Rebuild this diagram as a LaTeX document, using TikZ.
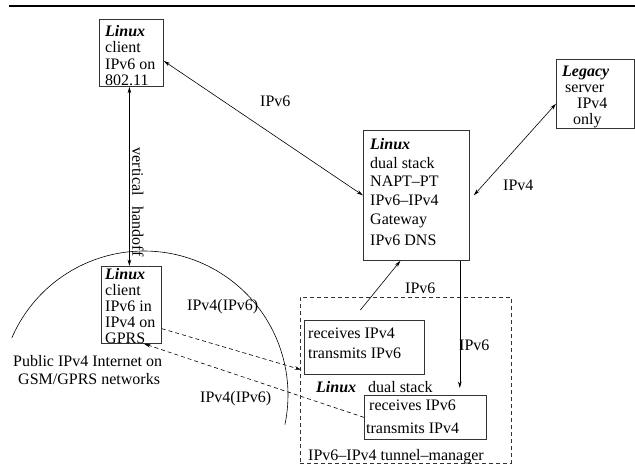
\documentclass[tikz,border=0pt]{standalone}
\usepackage{fontspec}
\setmainfont{Liberation Serif}
\usetikzlibrary{arrows.meta,calc}
\begin{document}
\begin{tikzpicture}[x=1pt,y=-1pt,
  font=\fontsize{16}{19}\selectfont,
  box/.style={draw=black!80, line width=0.8pt, anchor=north west, inner sep=0pt},
  dbox/.style={box, dash pattern=on 4pt off 3pt},
  tx/.style={anchor=base west, inner sep=0pt},
  bi/.style={tx, font=\fontsize{16}{19}\selectfont\bfseries\itshape},
  tip/.tip={Stealth[length=6.5pt,width=3.6pt]},
  lnk/.style={line width=0.6pt, -tip},
  blnk/.style={line width=0.6pt, tip-tip},
  dlnk/.style={lnk, dash pattern=on 4pt off 3pt}]
\useasboundingbox (0,0) rectangle (635,468);
% top rule
\draw[line width=2pt] (9,6) -- (635,6);

% boxes
\node[box, minimum width=64pt, minimum height=67pt] (c1) at (99,19) {};
\node[box, minimum width=60pt, minimum height=77pt] (c2) at (101,266) {};
\node[box, minimum width=106pt, minimum height=130pt] (g) at (363,130) {};
\node[box, minimum width=78pt, minimum height=69pt] (L) at (556,59) {};
\node[dbox, minimum width=211pt, minimum height=166pt] (t) at (300,297) {};
\node[box, minimum width=120pt, minimum height=54pt] (r4) at (304,320) {};
\node[box, minimum width=122pt, minimum height=44pt] (r6) at (364,395) {};

% client 1 text
\node[bi] (c1a) at (105,37) {Linux};
\node[tx] (c1b) at (105,53) {client};
\node[tx] (c1c) at (105,70) {IPv6 on};
\node[tx] (c1d) at (105,86) {802.11};

% client 2 text
\node[bi] (c2a) at (105,279) {Linux};
\node[tx] (c2b) at (105,295) {client};
\node[tx] (c2c) at (105,311) {IPv6 in};
\node[tx] (c2d) at (105,327) {IPv4 on};
\node[tx] (c2e) at (105,343) {GPRS};

% gateway text
\node[bi] (ga) at (370,150) {Linux};
\node[tx] (gb) at (370,168) {dual stack};
\node[tx] (gc) at (370,186) {NAPT--PT};
\node[tx] (gd) at (370,206) {IPv6--IPv4};
\node[tx] (ge) at (370,224) {Gateway};
\node[tx] (gf) at (370,245) {IPv6 DNS};

% legacy text
\node[bi] (La) at (562,77) {Legacy};
\node[tx] (Lb) at (565,93) {server};
\node[tx] (Lc) at (577,109) {IPv4};
\node[tx] (Ld) at (573,125) {only};

% tunnel manager text
\node[tx] (r4a) at (308,338) {receives IPv4};
\node[tx] (r4b) at (308,358) {transmits IPv6};
\node[bi] (tla) at (316,392) {Linux};
\node[tx] (tlb) at (368,392) {dual stack};
\node[tx] (r6a) at (369,410) {receives IPv6};
\node[tx] (r6b) at (366,433) {transmits IPv4};
\node[tx] (tl) at (308,460) {IPv6--IPv4 tunnel--manager};

% labels
\node[tx] (l1) at (260,107) {IPv6};
\node[tx] (l2) at (503,190) {IPv4};
\node[tx] (l3) at (405,293) {IPv6};
\node[tx] (l4) at (459,350) {IPv6};
\node[tx] (l5) at (187,310) {IPv4(IPv6)};
\node[tx] (l6) at (200,402) {IPv4(IPv6)};
\node[tx] (p1) at (13,366) {Public IPv4 Internet on};
\node[tx] (p2) at (18,384) {GSM/GPRS networks};
\node[rotate=-90, inner sep=0pt] (vh) at (138,202) {vertical\hspace{0.7em}handoff};

% network arc
\draw[line width=0.6pt] plot[domain=203.4:371.9, samples=90] ({144+144*cos(\x)},{395+144*sin(\x)});

% connectors
\draw[blnk] ([xshift=-2pt]c1.south) -- ([xshift=-2pt]c2.north);
\draw[blnk] (c1.-14) -- (g.west);
\draw[blnk] (L.194) -- ([xshift=4pt]g.east);
\draw[lnk] ([xshift=-4pt,yshift=10pt]r4.north) -- ([xshift=-16pt]g.south);
\coordinate (dtop) at ([xshift=-10pt]g.south east);
\draw[lnk, shorten >=7pt] (dtop) -- (dtop |- r6.north);
\draw[dlnk, shorten >=3pt] (c2.-38) -- (r4.201.8);
\draw[dlnk] (r6.west) -- (c2.-72);
\end{tikzpicture}
\end{document}
